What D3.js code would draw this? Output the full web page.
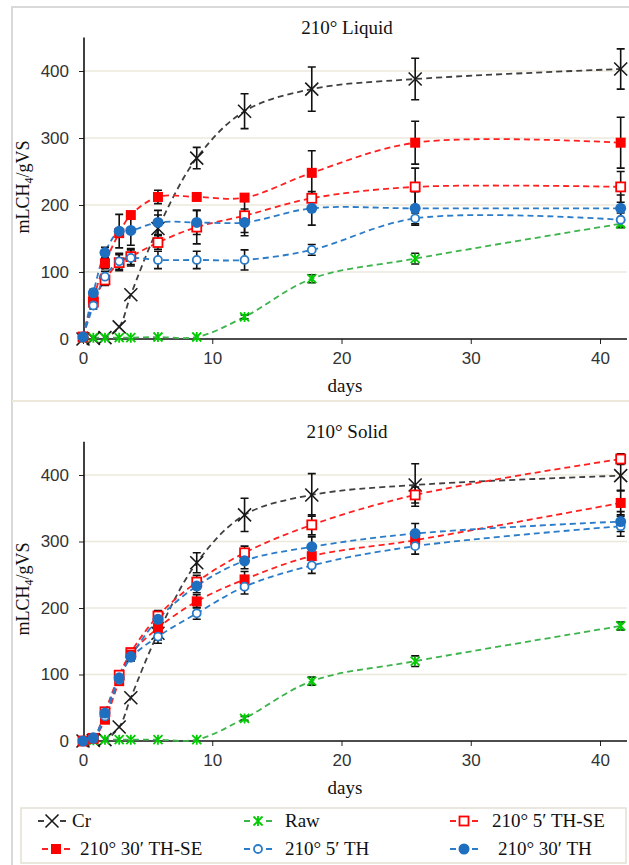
<!DOCTYPE html>
<html><head><meta charset="utf-8">
<script src="https://cdn.jsdelivr.net/npm/d3@7"></script>
<style>body{margin:0;background:#fff}svg{display:block}</style>
</head><body><svg id="c" width="629" height="865"></svg>
<script>
// ---------- DATA ----------
const days = [0, 0.8, 1.7, 2.8, 3.7, 5.8, 8.8, 12.5, 17.7, 25.7, 41.6];
const xTicks = [0, 10, 20, 30, 40];
const yTicks = [0, 100, 200, 300, 400];
const seriesNames = ["Cr", "Raw", "210° 5′ TH-SE", "210° 30′ TH-SE", "210° 5′ TH", "210° 30′ TH"];
const panelTitles = ["210° Liquid", "210° Solid"];

// 210° Liquid
const liqCr      = [0, 1, 2, 18, 66, 165, 270, 340, 373, 388, 403];
const liqCrErr   = [0, 0, 0, 0, 0, 20, 16, 26, 33, 31, 30];
const liqRaw     = [2, 2, 2, 2, 2, 3, 3, 33, 90, 120, 172];
const liqRawErr  = [0, 0, 0, 0, 0, 0, 0, 3, 6, 8, 6];
const liqSE5     = [3, 55, 88, 114, 123, 144, 167, 184, 210, 227, 227];
const liqSE5Err  = [0, 5, 8, 12, 12, 10, 25, 25, 0, 28, 23];
const liqSE30    = [3, 60, 113, 158, 185, 212, 212, 211, 248, 293, 293];
const liqSE30Err = [0, 5, 8, 0, 0, 10, 0, 0, 33, 32, 38];
const liqTH5     = [3, 50, 93, 116, 121, 118, 118, 118, 133, 180, 178];
const liqTH5Err  = [0, 5, 8, 12, 12, 13, 13, 15, 8, 8, 10];
const liqTH30    = [3, 69, 129, 161, 162, 174, 174, 174, 195, 195, 195];
const liqTH30Err = [0, 5, 8, 25, 22, 18, 18, 20, 25, 25, 20];

// 210° Solid
const solCr      = [0, 1, 2, 21, 65, 162, 268, 340, 370, 385, 399];
const solCrErr   = [0, 0, 0, 0, 0, 15, 15, 25, 32, 32, 22];
const solRaw     = [0, 1, 2, 2, 2, 2, 2, 34, 90, 120, 173];
const solRawErr  = [0, 0, 0, 0, 0, 0, 0, 3, 6, 8, 6];
const solSE5     = [0, 4, 44, 99, 133, 188, 239, 283, 325, 370, 424];
const solSE5Err  = [0, 0, 5, 5, 5, 8, 10, 10, 15, 12, 8];
const solSE30    = [0, 4, 32, 90, 130, 170, 210, 243, 278, 302, 358];
const solSE30Err = [0, 0, 4, 5, 5, 8, 10, 12, 14, 12, 18];
const solTH5     = [0, 3, 37, 92, 125, 157, 192, 232, 264, 293, 323];
const solTH5Err  = [0, 0, 3, 5, 5, 5, 9, 11, 12, 12, 15];
const solTH30    = [0, 5, 42, 95, 127, 183, 233, 271, 292, 312, 330];
const solTH30Err = [0, 0, 3, 5, 5, 8, 10, 12, 15, 15, 15];

// ---------- STYLE ----------
const styles = [
  {line: "#404040", mark: "#1a1a1a", type: "x"},
  {line: "#3cb44b", mark: "#00cc00", type: "star"},
  {line: "#ff2020", mark: "#ff0000", type: "sqOpen"},
  {line: "#ff2020", mark: "#ff0000", type: "sq"},
  {line: "#2a7bc8", mark: "#2a7bc8", type: "cOpen"},
  {line: "#2a7bc8", mark: "#1f6fc0", type: "c"}
];
const serif = "'Liberation Serif','Times New Roman',serif";
const sans = "'Liberation Sans',Arial,sans-serif";

const svg = d3.select("#c");
const x = d3.scaleLinear().domain([0, 40]).range([83, 600]);

function drawMarker(g, type, cx, cy, color) {
  if (type === "x") {
    const s = 6.5;
    g.append("path").attr("d", `M${cx-s},${cy-s}L${cx+s},${cy+s}M${cx-s},${cy+s}L${cx+s},${cy-s}`)
      .attr("stroke", color).attr("stroke-width", 1.6).attr("fill", "none");
  } else if (type === "star") {
    const s = 4.5;
    g.append("path").attr("d", `M${cx-s},${cy-s}L${cx+s},${cy+s}M${cx-s},${cy+s}L${cx+s},${cy-s}M${cx},${cy-s-0.5}L${cx},${cy+s+0.5}`)
      .attr("stroke", color).attr("stroke-width", 1.8).attr("fill", "none");
  } else if (type === "sqOpen") {
    g.append("rect").attr("x", cx-4.5).attr("y", cy-4.5).attr("width", 9).attr("height", 9)
      .attr("fill", "#fff").attr("stroke", color).attr("stroke-width", 1.8);
  } else if (type === "sq") {
    g.append("rect").attr("x", cx-5).attr("y", cy-5).attr("width", 10).attr("height", 10).attr("fill", color);
  } else if (type === "cOpen") {
    g.append("circle").attr("cx", cx).attr("cy", cy).attr("r", 4)
      .attr("fill", "#fff").attr("stroke", color).attr("stroke-width", 1.8);
  } else if (type === "c") {
    g.append("circle").attr("cx", cx).attr("cy", cy).attr("r", 5.5).attr("fill", color);
  }
}

function panel(cfg) {
  const y = d3.scaleLinear().domain([0, 450]).range([cfg.y0, cfg.y0 - 450 * cfg.k]);
  const g = svg.append("g");
  // gridlines
  g.selectAll(".grid").data(yTicks.slice(1)).join("line")
    .attr("x1", 84).attr("x2", 627).attr("y1", d => y(d)).attr("y2", d => y(d))
    .attr("stroke", "#ebe8dc").attr("stroke-width", 1.5);
  // title
  g.append("text").attr("x", 347).attr("y", cfg.y0 - 450 * cfg.k - 4).attr("text-anchor", "middle")
    .attr("font-family", serif).attr("font-size", 19).attr("fill", "#111").text(cfg.title);
  // axes
  const ya = g.append("g").attr("transform", "translate(84,0)")
    .call(d3.axisLeft(y).tickValues(yTicks).tickSize(5).tickPadding(10));
  ya.select(".domain").remove();
  ya.selectAll("text").attr("font-family", sans).attr("font-size", 17).attr("fill", "#333");
  ya.selectAll("line").attr("stroke", "#222");
  g.append("line").attr("x1", 84).attr("x2", 84).attr("y1", cfg.y0).attr("y2", y(450))
    .attr("stroke", "#111").attr("stroke-width", 1.6);
  const xa = g.append("g").attr("transform", `translate(0,${cfg.y0})`)
    .call(d3.axisBottom(x).tickValues(xTicks).tickSize(5).tickPadding(8));
  xa.select(".domain").remove();
  xa.selectAll("text").attr("font-family", sans).attr("font-size", 17).attr("fill", "#333");
  xa.selectAll("line").attr("stroke", "#222");
  g.append("line").attr("x1", 83).attr("x2", 627).attr("y1", cfg.y0).attr("y2", cfg.y0)
    .attr("stroke", "#111").attr("stroke-width", 1.6);
  // axis labels
  g.append("text").attr("x", 345).attr("y", cfg.y0 + 53).attr("text-anchor", "middle")
    .attr("font-family", serif).attr("font-size", 19).attr("fill", "#111").text("days");
  const yl = g.append("text").attr("transform", `translate(29,${cfg.y0 - 152}) rotate(-90)`)
    .attr("text-anchor", "middle").attr("font-family", serif).attr("font-size", 18).attr("fill", "#111");
  yl.append("tspan").text("mLCH");
  yl.append("tspan").attr("font-size", 12).attr("dy", 4).text("4");
  yl.append("tspan").attr("dy", -4).text("/gVS");

  const line = d3.line().x((d, i) => x(days[i])).y(d => y(d)).curve(d3.curveCatmullRom.alpha(0.5));
  cfg.series.forEach((s, k) => {
    g.append("path").attr("d", line(s.v)).attr("fill", "none")
      .attr("stroke", styles[k].line).attr("stroke-width", 1.8).attr("stroke-dasharray", "6,4");
  });
  cfg.series.forEach((s, k) => {
    s.e.forEach((e, i) => {
      if (!e) return;
      const cx = x(days[i]), ylo = y(s.v[i] - e), yhi = y(s.v[i] + e);
      g.append("path").attr("d", `M${cx},${ylo}V${yhi}M${cx-4},${ylo}H${cx+4}M${cx-4},${yhi}H${cx+4}`)
        .attr("stroke", "#111").attr("stroke-width", 1.6).attr("fill", "none");
    });
  });
  cfg.series.forEach((s, k) => {
    s.v.forEach((v, i) => drawMarker(g, styles[k].type, x(days[i]), y(v), styles[k].mark));
  });
}

// frame
svg.append("path").attr("d", "M629,7H12V865").attr("fill", "none").attr("stroke", "#d9d9d9").attr("stroke-width", 2);
svg.append("line").attr("x1", 12).attr("x2", 629).attr("y1", 401).attr("y2", 401).attr("stroke", "#ece9dc").attr("stroke-width", 2);

panel({title: panelTitles[0], y0: 339, k: 0.67, series: [
  {v: liqCr, e: liqCrErr}, {v: liqRaw, e: liqRawErr}, {v: liqSE5, e: liqSE5Err},
  {v: liqSE30, e: liqSE30Err}, {v: liqTH5, e: liqTH5Err}, {v: liqTH30, e: liqTH30Err}]});
panel({title: panelTitles[1], y0: 741, k: 0.665, series: [
  {v: solCr, e: solCrErr}, {v: solRaw, e: solRawErr}, {v: solSE5, e: solSE5Err},
  {v: solSE30, e: solSE30Err}, {v: solTH5, e: solTH5Err}, {v: solTH30, e: solTH30Err}]});

// legend
const lg = svg.append("g");
lg.append("rect").attr("x", 21).attr("y", 808).attr("width", 605).attr("height", 55)
  .attr("fill", "#fff").attr("stroke", "#e3e0d3").attr("stroke-width", 1.5);
const legPos = [
  {sx: 52, tx: 72, ty: 827}, {sx: 258, tx: 285, ty: 827}, {sx: 464, tx: 492, ty: 827},
  {sx: 56, tx: 80, ty: 855}, {sx: 258, tx: 285, ty: 855}, {sx: 464, tx: 498, ty: 855}
];
seriesNames.forEach((name, k) => {
  const p = legPos[k], cy = p.ty - 6;
  lg.append("path").attr("d", `M${p.sx-14},${cy}H${p.sx-8}M${p.sx+8},${cy}H${p.sx+14}`)
    .attr("stroke", styles[k].line).attr("stroke-width", 2);
  const t = styles[k].type;
  drawMarker(lg, t, p.sx, cy, styles[k].mark);
  lg.append("text").attr("x", p.tx).attr("y", p.ty).attr("font-family", serif).attr("font-size", 19)
    .attr("fill", "#111").text(name);
});
</script></body></html>
